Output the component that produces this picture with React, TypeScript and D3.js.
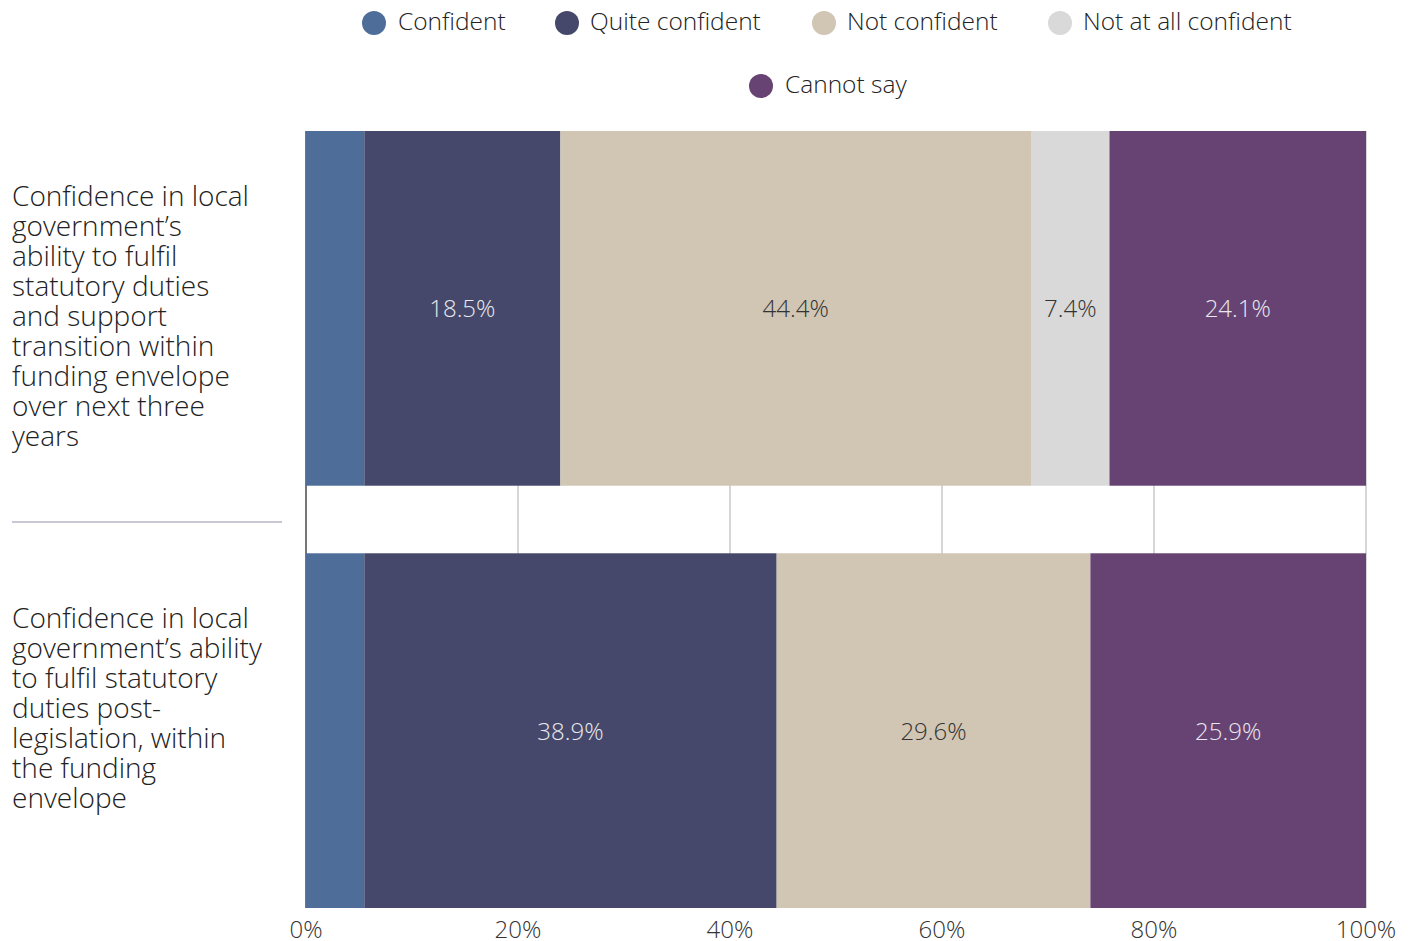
import React from "react";
import * as d3 from "d3";

const categories = [
  "Confidence in local government’s ability to fulfil statutory duties and support transition within funding envelope over next three years",
  "Confidence in local government’s ability to fulfil statutory duties post-legislation, within the funding envelope",
];
const categoryLines = [
  ["Confidence in local", "government’s", "ability to fulfil", "statutory duties", "and support", "transition within", "funding envelope", "over next three", "years"],
  ["Confidence in local", "government’s ability", "to fulfil statutory", "duties post-", "legislation, within", "the funding", "envelope"],
];
const seriesNames = ["Confident", "Quite confident", "Not confident", "Not at all confident", "Cannot say"];
const seriesColors = ["#4e6e99", "#45486a", "#d1c5b4", "#d9d9d9", "#674373"];
const labelColors = ["#ffffff", "#e8e8ee", "#333333", "#333333", "#e8e8ee"];
const confident = [5.5, 5.5];
const quiteConfident = [18.5, 38.9];
const notConfident = [44.4, 29.6];
const notAtAllConfident = [7.4, 0];
const cannotSay = [24.1, 25.9];
const tickValues = [0, 20, 40, 60, 80, 100];
const showLabelMin = 7;

export default function App() {
  const W = 1412, H = 941;
  const x = d3.scaleLinear().domain([0, 100]).range([306, 1366]);
  const y = d3.scaleBand().domain(categories).range([131, 908]).paddingInner(0.16).paddingOuter(0);
  const series = [confident, quiteConfident, notConfident, notAtAllConfident, cannotSay];
  const rows = categories.map((c, i) => {
    let acc = 0;
    return series.map((s, k) => {
      const v = s[i];
      const x0 = acc;
      acc += v;
      return { k, v, x0, x1: k === series.length - 1 ? 100 : acc };
    });
  });
  const font = "'Open Sans', sans-serif";
  const legendRow1 = [
    { k: 0, cx: 374, tx: 398 },
    { k: 1, cx: 567, tx: 590 },
    { k: 2, cx: 824, tx: 847 },
    { k: 3, cx: 1060, tx: 1083 },
  ];
  return (
    <svg width={W} height={H} style={{ position: "absolute", left: 0, top: 0, fontFamily: font }}>
      <rect width={W} height={H} fill="#fff" />
      {/* legend */}
      {legendRow1.map((l) => (
        <g key={l.k}>
          <circle cx={l.cx} cy={23} r={12} fill={seriesColors[l.k]} />
          <text x={l.tx} y={30} fontSize={24.5} fontWeight={300} fill="#222">{seriesNames[l.k]}</text>
        </g>
      ))}
      <circle cx={761} cy={86} r={12} fill={seriesColors[4]} />
      <text x={785} y={93} fontSize={24.5} fontWeight={300} fill="#222">{seriesNames[4]}</text>

      {/* gridlines */}
      {tickValues.map((t) => (
        <line key={t} x1={x(t)} x2={x(t)} y1={131} y2={908} stroke={t === 0 ? "#777" : "#c8c8c8"} strokeWidth={t === 0 ? 2 : 1.5} />
      ))}

      {/* bars */}
      {rows.map((r, i) => (
        <g key={i}>
          {r.map((seg) =>
            seg.v > 0 ? (
              <rect key={seg.k} x={x(seg.x0)} y={y(categories[i])} width={x(seg.x1) - x(seg.x0)} height={y.bandwidth()} fill={seriesColors[seg.k]} />
            ) : null
          )}
          {r.map((seg) =>
            seg.v >= showLabelMin ? (
              <text key={"t" + seg.k} x={(x(seg.x0) + x(seg.x1)) / 2} y={y(categories[i])! + y.bandwidth() / 2 + 9} textAnchor="middle" fontSize={24} fontWeight={300} fill={labelColors[seg.k]}>
                {seg.v.toFixed(1)}%
              </text>
            ) : null
          )}
        </g>
      ))}

      {/* category labels */}
      {categoryLines.map((lines, i) => {
        const top = y(categories[i])! + 75;
        const lh = 30;
        return (
          <g key={i}>
            {lines.map((ln, j) => (
              <text key={j} x={12} y={top + j * lh} fontSize={28} fontWeight={300} fill="#222">{ln}</text>
            ))}
          </g>
        );
      })}
      <line x1={12} x2={282} y1={522} y2={522} stroke="#c8c8d4" strokeWidth={2} />

      {/* x axis labels */}
      {tickValues.map((t) => (
        <text key={t} x={x(t)} y={938} textAnchor="middle" fontSize={24} fontWeight={300} fill="#333">{t}%</text>
      ))}
    </svg>
  );
}
